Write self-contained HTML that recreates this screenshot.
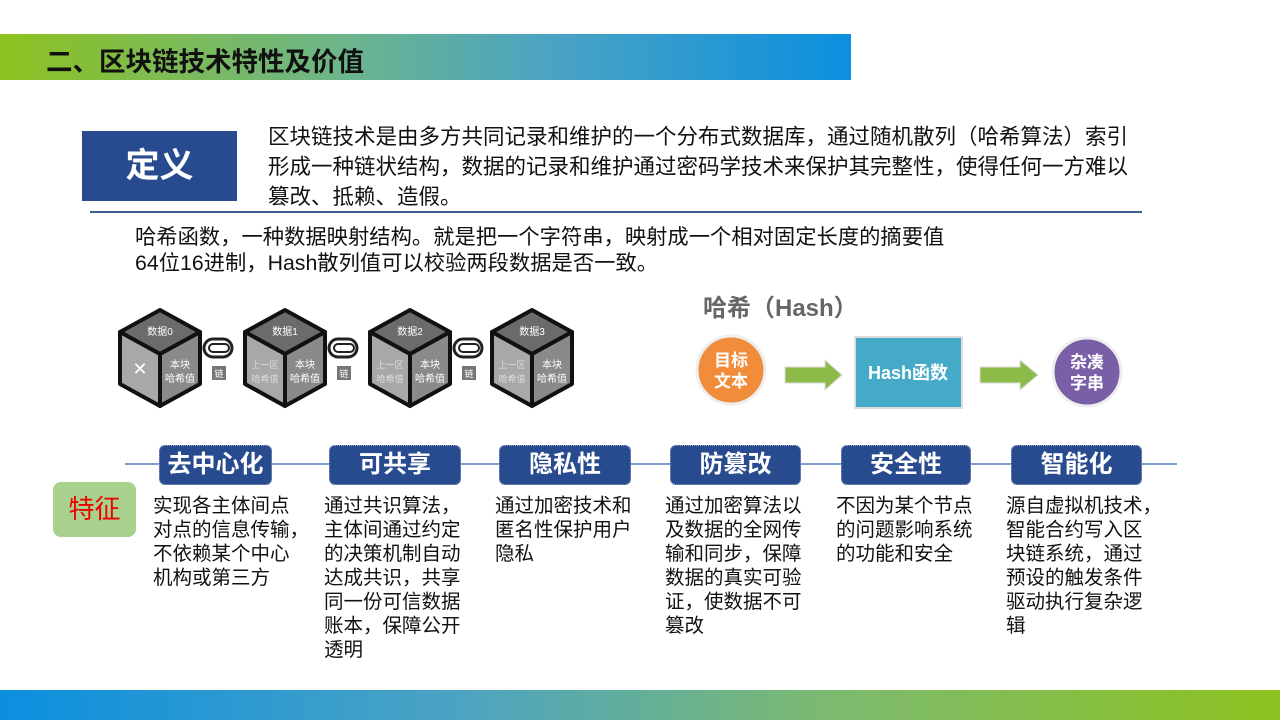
<!DOCTYPE html>
<html><head><meta charset="utf-8"><style>
*{margin:0;padding:0;box-sizing:border-box}
body{width:1280px;height:720px;position:relative;overflow:hidden;background:#fff;font-family:"Liberation Sans","Noto Sans CJK SC",sans-serif;color:#111}
.a{position:absolute}
.hd{left:0;top:34px;width:851px;height:46px;background:linear-gradient(90deg,#8dc21f 0%,#6db58a 40%,#4aa3c4 65%,#0b8fdf 100%)}
.hd span{position:absolute;left:46px;top:6px;font-size:26.5px;font-weight:bold;color:#111}
.def{left:82px;top:131px;width:155px;height:70px;background:#284b8f;color:#fff;font-size:34px;font-weight:bold;text-align:center;line-height:70px}
.dt{left:268px;top:122px;font-size:21.5px;line-height:30px;width:950px;white-space:nowrap}
.hl{left:90px;top:211px;width:1052px;height:2px;background:#3b5f95}
.ht{left:135px;top:224px;font-size:21.3px;line-height:26px;white-space:nowrap}
.fl{left:125px;top:463px;width:1052px;height:2px;background:#7d9fd0}
.fb{top:445px;height:40px;background:#284b8f;border:1px dotted #9ab;border-radius:6px;color:#fff;font-size:24px;font-weight:bold;text-align:center;line-height:38px}
.ds{top:494px;font-size:19.5px;line-height:24px;white-space:nowrap}
.tz{left:53px;top:482px;width:83px;height:55px;background:#a9d18e;border-radius:8px;color:#e00;font-size:26px;text-align:center;line-height:55px}
.bt{left:0;top:690px;width:1280px;height:30px;background:linear-gradient(90deg,#0b8fdf 0%,#4aa3c4 35%,#7dba70 65%,#8dc21f 100%)}
</style></head><body>
<div class="a hd"><span>二、区块链技术特性及价值</span></div>
<div class="a def">定义</div>
<div class="a dt">区块链技术是由多方共同记录和维护的一个分布式数据库，通过随机散列（哈希算法）索引<br>形成一种链状结构，数据的记录和维护通过密码学技术来保护其完整性，使得任何一方难以<br>篡改、抵赖、造假。</div>
<div class="a hl"></div>
<div class="a ht">哈希函数，一种数据映射结构。就是把一个字符串，映射成一个相对固定长度的摘要值<br>64位16进制，Hash散列值可以校验两段数据是否一致。</div>

<svg class="a" style="left:110px;top:300px" width="480" height="110" viewBox="0 0 480 110">
<defs>
<g id="cube">
<polygon points="0,22 40,0 80,22 40,44" fill="#6b6b6b" stroke="#111" stroke-width="4" stroke-linejoin="round"/>
<polygon points="0,22 40,44 40,96 0,74" fill="#a8a8a8" stroke="#111" stroke-width="4" stroke-linejoin="round"/>
<polygon points="40,44 80,22 80,74 40,96" fill="#8a8a8a" stroke="#111" stroke-width="4" stroke-linejoin="round"/>
</g>
<g id="clip"><rect x="-14" y="-9" width="28" height="18" rx="9" fill="none" stroke="#222" stroke-width="3"/><rect x="-9" y="-4" width="20" height="8" rx="4" fill="none" stroke="#222" stroke-width="2"/><rect x="-6" y="18" width="14" height="14" fill="#777"/><text x="1" y="29" font-size="9" fill="#fff" text-anchor="middle">链</text></g>
</defs>
<g transform="translate(10,10)"><use href="#cube"/><text x="40" y="25" font-size="10" fill="#fff" text-anchor="middle">数据0</text><text x="20" y="65" font-size="18" fill="#fff" text-anchor="middle">✕</text><text x="60" y="58" font-size="10" fill="#fff" text-anchor="middle">本块</text><text x="60" y="72" font-size="10" fill="#fff" text-anchor="middle">哈希值</text></g>
<g transform="translate(108,48)"><use href="#clip"/></g>
<g transform="translate(135,10)"><use href="#cube"/><text x="40" y="25" font-size="10" fill="#fff" text-anchor="middle">数据1</text><text x="20" y="58" font-size="9" fill="#ddd" text-anchor="middle">上一区</text><text x="20" y="72" font-size="9" fill="#ddd" text-anchor="middle">哈希值</text><text x="60" y="58" font-size="10" fill="#fff" text-anchor="middle">本块</text><text x="60" y="72" font-size="10" fill="#fff" text-anchor="middle">哈希值</text></g>
<g transform="translate(233,48)"><use href="#clip"/></g>
<g transform="translate(260,10)"><use href="#cube"/><text x="40" y="25" font-size="10" fill="#fff" text-anchor="middle">数据2</text><text x="20" y="58" font-size="9" fill="#ddd" text-anchor="middle">上一区</text><text x="20" y="72" font-size="9" fill="#ddd" text-anchor="middle">哈希值</text><text x="60" y="58" font-size="10" fill="#fff" text-anchor="middle">本块</text><text x="60" y="72" font-size="10" fill="#fff" text-anchor="middle">哈希值</text></g>
<g transform="translate(358,48)"><use href="#clip"/></g>
<g transform="translate(382,10)"><use href="#cube"/><text x="40" y="25" font-size="10" fill="#fff" text-anchor="middle">数据3</text><text x="20" y="58" font-size="9" fill="#ddd" text-anchor="middle">上一区</text><text x="20" y="72" font-size="9" fill="#ddd" text-anchor="middle">哈希值</text><text x="60" y="58" font-size="10" fill="#fff" text-anchor="middle">本块</text><text x="60" y="72" font-size="10" fill="#fff" text-anchor="middle">哈希值</text></g>
</svg>

<svg class="a" style="left:690px;top:290px" width="450" height="130" viewBox="0 0 450 130">
<text x="13" y="26" font-size="24" font-weight="bold" fill="#666" font-family="Liberation Sans,Noto Sans CJK SC,sans-serif">哈希（Hash）</text>
<circle cx="41" cy="80" r="34" fill="#f08c3a" stroke="#eee" stroke-width="3"/>
<text x="41" y="76" font-size="17" font-weight="bold" fill="#fff" text-anchor="middle">目标</text>
<text x="41" y="97" font-size="17" font-weight="bold" fill="#fff" text-anchor="middle">文本</text>
<polygon points="95,77 135,77 135,70 152,85 135,100 135,93 95,93" fill="#8cbb4a" stroke="#ddd"/>
<rect x="165" y="47" width="107" height="71" fill="#45aac8" stroke="#ddd" stroke-width="2"/>
<text x="218" y="89" font-size="18" font-weight="bold" fill="#fff" text-anchor="middle">Hash函数</text>
<polygon points="290,77 330,77 330,70 348,85 330,100 330,93 290,93" fill="#8cbb4a" stroke="#ddd"/>
<circle cx="397" cy="82" r="34" fill="#7a5ea6" stroke="#eee" stroke-width="3"/>
<text x="397" y="78" font-size="17" font-weight="bold" fill="#fff" text-anchor="middle">杂凑</text>
<text x="397" y="99" font-size="17" font-weight="bold" fill="#fff" text-anchor="middle">字串</text>
</svg>

<div class="a fl"></div>
<div class="a fb" style="left:159px;width:113px">去中心化</div>
<div class="a fb" style="left:329px;width:132px">可共享</div>
<div class="a fb" style="left:499px;width:132px">隐私性</div>
<div class="a fb" style="left:670px;width:131px">防篡改</div>
<div class="a fb" style="left:841px;width:130px">安全性</div>
<div class="a fb" style="left:1011px;width:131px">智能化</div>
<div class="a tz">特征</div>
<div class="a ds" style="left:153px">实现各主体间点<br>对点的信息传输，<br>不依赖某个中心<br>机构或第三方</div>
<div class="a ds" style="left:324px">通过共识算法，<br>主体间通过约定<br>的决策机制自动<br>达成共识，共享<br>同一份可信数据<br>账本，保障公开<br>透明</div>
<div class="a ds" style="left:495px">通过加密技术和<br>匿名性保护用户<br>隐私</div>
<div class="a ds" style="left:665px">通过加密算法以<br>及数据的全网传<br>输和同步，保障<br>数据的真实可验<br>证，使数据不可<br>篡改</div>
<div class="a ds" style="left:836px">不因为某个节点<br>的问题影响系统<br>的功能和安全</div>
<div class="a ds" style="left:1006px">源自虚拟机技术，<br>智能合约写入区<br>块链系统，通过<br>预设的触发条件<br>驱动执行复杂逻<br>辑</div>
<div class="a bt"></div>
</body></html>
